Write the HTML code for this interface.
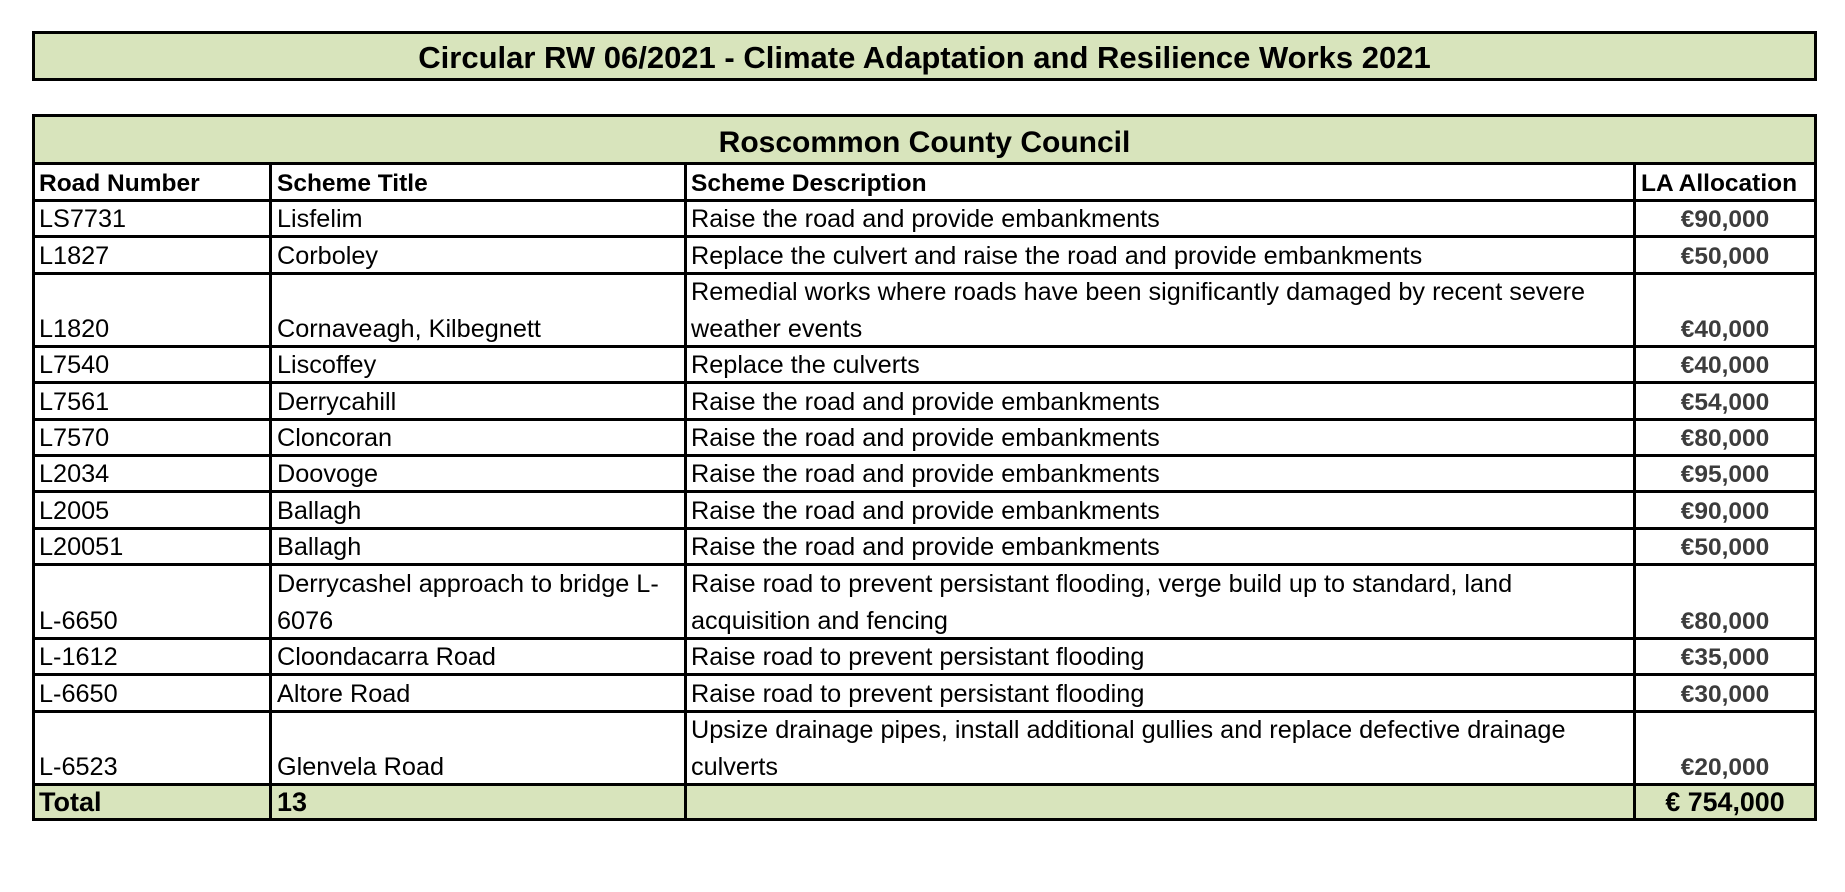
<!DOCTYPE html>
<html><head><meta charset="utf-8">
<style>
html,body{margin:0;padding:0;background:#fff;}
body{width:1845px;height:892px;position:relative;overflow:hidden;font-family:"Liberation Sans",Arial,sans-serif;color:#000;}
.g{position:absolute;background:#D8E4BC;}
.h{position:absolute;left:32px;width:1785px;height:3px;background:#000;}
.v{position:absolute;width:3px;background:#000;}
.t{position:absolute;font-size:25.25px;line-height:37px;white-space:nowrap;margin-top:3px;}
.b{font-weight:bold;font-size:24.5px;}
.c1{left:39px;}
.c2{left:277px;}
.c3{left:691px;}
.c4{left:1636px;width:178px;text-align:center;font-weight:bold;font-size:24.5px;color:#3c3c3c;}
.hd{left:1641px;}
.tot{font-weight:bold;font-size:27px;}
</style></head><body>
<!-- Title box -->
<div class="g" style="left:32px;top:31px;width:1785px;height:50px;"></div>
<div class="h" style="top:31px;"></div>
<div class="h" style="top:78px;"></div>
<div class="v" style="left:32px;top:31px;height:50px;"></div>
<div class="v" style="left:1814px;top:31px;height:50px;"></div>
<div class="t" style="left:32px;width:1785px;top:32px;height:46px;line-height:46px;text-align:center;font-weight:bold;font-size:31px;">Circular RW 06/2021 - Climate Adaptation and Resilience Works 2021</div>

<!-- Table green header -->
<div class="g" style="left:32px;top:114px;width:1785px;height:50px;"></div>
<div class="t" style="left:32px;width:1785px;top:117px;height:46px;line-height:46px;text-align:center;font-weight:bold;font-size:30px;">Roscommon County Council</div>

<!-- Total row green -->
<div class="g" style="left:32px;top:783px;width:1785px;height:38px;"></div>

<!-- horizontal lines -->
<div class="h" style="top:114px;"></div>
<div class="h" style="top:162px;"></div>
<div class="h" style="top:199px;"></div>
<div class="h" style="top:235px;"></div>
<div class="h" style="top:272px;"></div>
<div class="h" style="top:345px;"></div>
<div class="h" style="top:381px;"></div>
<div class="h" style="top:418px;"></div>
<div class="h" style="top:454px;"></div>
<div class="h" style="top:490px;"></div>
<div class="h" style="top:527px;"></div>
<div class="h" style="top:563px;"></div>
<div class="h" style="top:637px;"></div>
<div class="h" style="top:673px;"></div>
<div class="h" style="top:710px;"></div>
<div class="h" style="top:783px;"></div>
<div class="h" style="top:818px;"></div>

<!-- vertical lines -->
<div class="v" style="left:32px;top:114px;height:707px;"></div>
<div class="v" style="left:1814px;top:114px;height:707px;"></div>
<div class="v" style="left:269px;top:162px;height:659px;"></div>
<div class="v" style="left:684px;top:162px;height:659px;"></div>
<div class="v" style="left:1633px;top:162px;height:659px;"></div>

<!-- header row -->
<div class="t b c1" style="top:162px;">Road Number</div>
<div class="t b c2" style="top:162px;">Scheme Title</div>
<div class="t b c3" style="top:162px;">Scheme Description</div>
<div class="t b hd" style="top:162px;">LA Allocation</div>

<!-- row 1 (line 235) -->
<div class="t c1" style="top:198px;">LS7731</div>
<div class="t c2" style="top:198px;">Lisfelim</div>
<div class="t c3" style="top:198px;">Raise the road and provide embankments</div>
<div class="t c4" style="top:198px;">€90,000</div>

<!-- row 2 (line 272) -->
<div class="t c1" style="top:235px;">L1827</div>
<div class="t c2" style="top:235px;">Corboley</div>
<div class="t c3" style="top:235px;">Replace the culvert and raise the road and provide embankments</div>
<div class="t c4" style="top:235px;">€50,000</div>

<!-- row 3 (line 345, double) -->
<div class="t c1" style="top:308px;">L1820</div>
<div class="t c2" style="top:308px;">Cornaveagh, Kilbegnett</div>
<div class="t c3" style="top:271px;">Remedial works where roads have been significantly damaged by recent severe<br>weather events</div>
<div class="t c4" style="top:308px;">€40,000</div>

<!-- row 4 (line 381) -->
<div class="t c1" style="top:344px;">L7540</div>
<div class="t c2" style="top:344px;">Liscoffey</div>
<div class="t c3" style="top:344px;">Replace the culverts</div>
<div class="t c4" style="top:344px;">€40,000</div>

<!-- row 5 (line 418) -->
<div class="t c1" style="top:381px;">L7561</div>
<div class="t c2" style="top:381px;">Derrycahill</div>
<div class="t c3" style="top:381px;">Raise the road and provide embankments</div>
<div class="t c4" style="top:381px;">€54,000</div>

<!-- row 6 (line 454) -->
<div class="t c1" style="top:417px;">L7570</div>
<div class="t c2" style="top:417px;">Cloncoran</div>
<div class="t c3" style="top:417px;">Raise the road and provide embankments</div>
<div class="t c4" style="top:417px;">€80,000</div>

<!-- row 7 (line 490) -->
<div class="t c1" style="top:453px;">L2034</div>
<div class="t c2" style="top:453px;">Doovoge</div>
<div class="t c3" style="top:453px;">Raise the road and provide embankments</div>
<div class="t c4" style="top:453px;">€95,000</div>

<!-- row 8 (line 527) -->
<div class="t c1" style="top:490px;">L2005</div>
<div class="t c2" style="top:490px;">Ballagh</div>
<div class="t c3" style="top:490px;">Raise the road and provide embankments</div>
<div class="t c4" style="top:490px;">€90,000</div>

<!-- row 9 (line 563) -->
<div class="t c1" style="top:526px;">L20051</div>
<div class="t c2" style="top:526px;">Ballagh</div>
<div class="t c3" style="top:526px;">Raise the road and provide embankments</div>
<div class="t c4" style="top:526px;">€50,000</div>

<!-- row 10 (line 637, double) -->
<div class="t c1" style="top:600px;">L-6650</div>
<div class="t c2" style="top:563px;">Derrycashel approach to bridge L-<br>6076</div>
<div class="t c3" style="top:563px;">Raise road to prevent persistant flooding, verge build up to standard, land<br>acquisition and fencing</div>
<div class="t c4" style="top:600px;">€80,000</div>

<!-- row 11 (line 673) -->
<div class="t c1" style="top:636px;">L-1612</div>
<div class="t c2" style="top:636px;">Cloondacarra Road</div>
<div class="t c3" style="top:636px;">Raise road to prevent persistant flooding</div>
<div class="t c4" style="top:636px;">€35,000</div>

<!-- row 12 (line 710) -->
<div class="t c1" style="top:673px;">L-6650</div>
<div class="t c2" style="top:673px;">Altore Road</div>
<div class="t c3" style="top:673px;">Raise road to prevent persistant flooding</div>
<div class="t c4" style="top:673px;">€30,000</div>

<!-- row 13 (line 783, double) -->
<div class="t c1" style="top:746px;">L-6523</div>
<div class="t c2" style="top:746px;">Glenvela Road</div>
<div class="t c3" style="top:709px;">Upsize drainage pipes, install additional gullies and replace defective drainage<br>culverts</div>
<div class="t c4" style="top:746px;">€20,000</div>

<!-- total row (line 818) -->
<div class="t tot c1" style="top:781px;">Total</div>
<div class="t tot c2" style="top:781px;">13</div>
<div class="t c4" style="top:781px;color:#000;font-size:26.8px;">€ 754,000</div>
</body></html>
